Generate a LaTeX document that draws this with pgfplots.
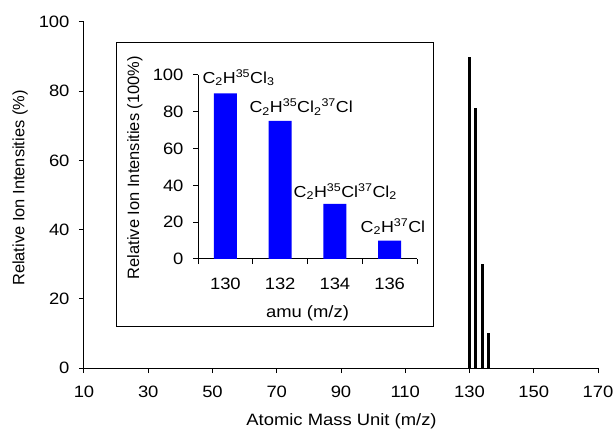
\documentclass[border=0pt]{standalone}
\usepackage{pgfplots}
\pgfplotsset{compat=1.18}
\usepackage{fontspec}
\setmainfont{Liberation Sans}[FakeStretch=1.12]
\newfontfamily\rotfont{Liberation Sans}
\definecolor{barblue}{RGB}{0,0,255}
\pgfplotsset{
  myaxis/.style={
    scale only axis,
    axis x line=bottom, axis y line=left,
    axis line style={-, line width=1bp, black},
    every inner x axis line/.append style={-},
    every inner y axis line/.append style={-},
    every outer x axis line/.append style={-},
    every outer y axis line/.append style={-},
    tick align=outside, major tick length=5bp,
    tick style={black, line width=1bp},
    ticklabel style={/pgf/number format/assume math mode=true, font=\fontsize{16.5}{19}\selectfont},
    xlabel style={font=\fontsize{16.5}{19}\selectfont},
    ylabel style={font=\rotfont\fontsize{16.5}{19}\selectfont},
    xticklabel style={yshift=-10bp},
    yticklabel style={xshift=-6bp},
  }
}
\begin{document}
\begin{tikzpicture}[x=1bp,y=1bp]
\begin{axis}[myaxis,
  at={(0bp,0bp)}, anchor=south west, width=514bp, height=346bp,
  xmin=10, xmax=170, ymin=0, ymax=100,
  xtick={10,30,...,170}, ytick={0,20,...,100},
  xlabel={Atomic Mass Unit (m/z)},
  ylabel={Relative Ion Intensities (\%)},
  xlabel style={at={(axis description cs:0.501,-0.153)}, anchor=center},
  ylabel style={at={(axis description cs:-0.1245,0.52)}, anchor=center},
  clip=false]
\addplot[ycomb, black, line width=3bp, mark=none] coordinates {(130,90) (132,75) (134,30) (136,10)};
\end{axis}
\draw[line width=1bp, fill=white] (32bp,41bp) rectangle (349bp,325bp);
\begin{axis}[myaxis,
  at={(114bp,109bp)}, anchor=south west, width=219bp, height=184bp,
  xmin=-0.5, xmax=3.5, ymin=0, ymax=100,
  xtick={-0.5,0.5,...,3.5}, xticklabels={},
  extra x ticks={0,1,2,3}, extra x tick labels={130,132,134,136},
  extra x tick style={major tick length=0pt, xticklabel style={yshift=-6bp}},
  ytick={0,20,...,100},
  xlabel={amu (m/z)},
  ylabel={Relative Ion Intensities (100\%)},
  xlabel style={at={(axis description cs:0.5,-0.295)}, anchor=center},
  ylabel style={at={(axis description cs:-0.288,0.497)}, anchor=center},
  ybar, bar width=23bp, clip=false]
\addplot[fill=barblue, draw=none] coordinates {(0,90) (1,75) (2,30) (3,10)};
\node[anchor=base, font=\fontsize{16}{19}\selectfont] at (axis cs:0.24,95.5) {C\textsubscript{2}H\textsuperscript{35}Cl\textsubscript{3}};
\node[anchor=base, font=\fontsize{16}{19}\selectfont] at (axis cs:1.385,79.5) {C\textsubscript{2}H\textsuperscript{35}Cl\textsubscript{2}\textsuperscript{37}Cl};
\node[anchor=base, font=\fontsize{16}{19}\selectfont] at (axis cs:2.19,33.5) {C\textsubscript{2}H\textsuperscript{35}Cl\textsuperscript{37}Cl\textsubscript{2}};
\node[anchor=base, font=\fontsize{16}{19}\selectfont] at (axis cs:3.06,14.5) {C\textsubscript{2}H\textsuperscript{37}Cl};
\end{axis}
\pgfresetboundingbox
\useasboundingbox (-84bp,-62bp) rectangle (531bp,368bp);
\end{tikzpicture}
\end{document}
